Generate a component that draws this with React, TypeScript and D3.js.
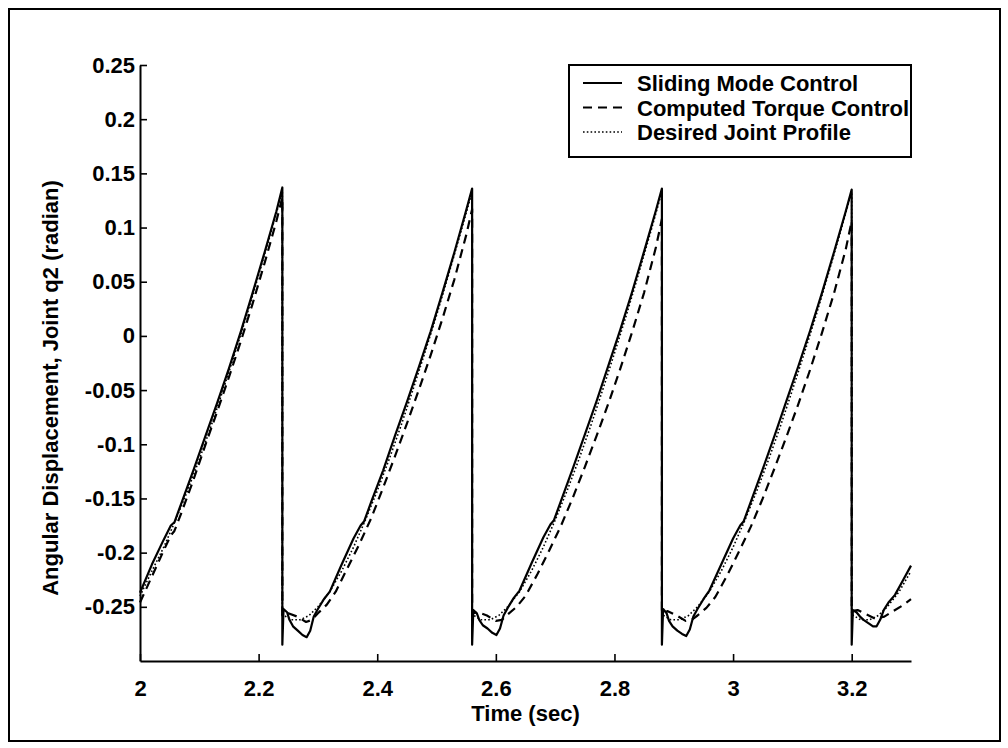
import React, { useEffect, useRef } from 'react';
import * as d3 from 'd3';

type Pt = [number, number];

// time (sec), angular displacement (rad)
const slidingMode: Pt[] = [
  [2.000, -0.237], [2.020, -0.211], [2.040, -0.188], [2.052, -0.175], [2.058, -0.172],
  [2.070, -0.154], [2.090, -0.124], [2.110, -0.093], [2.130, -0.062], [2.150, -0.030],
  [2.170, 0.004], [2.190, 0.040], [2.210, 0.077], [2.230, 0.115], [2.240, 0.137],
  [2.240, -0.285], [2.242, -0.252], [2.248, -0.255], [2.252, -0.262], [2.258, -0.268],
  [2.266, -0.272], [2.274, -0.276], [2.281, -0.278], [2.287, -0.272], [2.293, -0.259],
  [2.300, -0.252], [2.310, -0.243], [2.320, -0.236], [2.340, -0.211], [2.360, -0.187],
  [2.372, -0.175], [2.378, -0.171], [2.390, -0.153], [2.410, -0.124], [2.430, -0.092],
  [2.450, -0.061], [2.470, -0.029], [2.490, 0.004], [2.510, 0.040], [2.530, 0.077],
  [2.550, 0.116], [2.560, 0.136],
  [2.560, -0.285], [2.562, -0.253], [2.568, -0.256], [2.572, -0.262], [2.578, -0.267],
  [2.586, -0.270], [2.594, -0.274], [2.601, -0.276], [2.607, -0.270], [2.613, -0.258],
  [2.620, -0.251], [2.630, -0.242], [2.640, -0.235], [2.660, -0.210], [2.680, -0.186],
  [2.692, -0.174], [2.698, -0.170], [2.710, -0.152], [2.730, -0.122], [2.750, -0.091],
  [2.770, -0.060], [2.790, -0.027], [2.810, 0.006], [2.830, 0.041], [2.850, 0.078],
  [2.870, 0.116], [2.880, 0.136],
  [2.880, -0.285], [2.882, -0.252], [2.888, -0.256], [2.892, -0.263], [2.898, -0.268],
  [2.906, -0.272], [2.914, -0.275], [2.921, -0.277], [2.927, -0.271], [2.933, -0.259],
  [2.940, -0.252], [2.950, -0.243], [2.960, -0.235], [2.980, -0.211], [3.000, -0.187],
  [3.012, -0.175], [3.018, -0.171], [3.030, -0.153], [3.050, -0.123], [3.070, -0.092],
  [3.090, -0.060], [3.110, -0.028], [3.130, 0.005], [3.150, 0.040], [3.170, 0.077],
  [3.190, 0.115], [3.200, 0.135],
  [3.200, -0.285], [3.202, -0.253], [3.208, -0.255], [3.214, -0.259], [3.220, -0.262],
  [3.228, -0.265], [3.236, -0.268], [3.242, -0.268], [3.248, -0.262], [3.254, -0.253],
  [3.262, -0.246], [3.273, -0.239], [3.287, -0.225], [3.300, -0.212],
];

const computedTorque: Pt[] = [
  [2.000, -0.246], [2.020, -0.222], [2.040, -0.198], [2.052, -0.184], [2.058, -0.180],
  [2.070, -0.163], [2.090, -0.133], [2.110, -0.101], [2.130, -0.070], [2.150, -0.038],
  [2.170, -0.005], [2.190, 0.030], [2.210, 0.067], [2.230, 0.106], [2.240, 0.128],
  [2.240, -0.258], [2.250, -0.256], [2.265, -0.259], [2.280, -0.264], [2.290, -0.262],
  [2.300, -0.256], [2.315, -0.248], [2.330, -0.236], [2.350, -0.214], [2.370, -0.192],
  [2.390, -0.168], [2.410, -0.140], [2.430, -0.111], [2.450, -0.081], [2.470, -0.050],
  [2.490, -0.018], [2.510, 0.016], [2.530, 0.052], [2.550, 0.093], [2.560, 0.117],
  [2.560, -0.256], [2.570, -0.255], [2.585, -0.258], [2.600, -0.263], [2.610, -0.262],
  [2.620, -0.257], [2.635, -0.250], [2.650, -0.240], [2.670, -0.220], [2.690, -0.198],
  [2.710, -0.175], [2.730, -0.149], [2.750, -0.121], [2.770, -0.092], [2.790, -0.062],
  [2.810, -0.030], [2.830, 0.004], [2.850, 0.040], [2.870, 0.082], [2.880, 0.108],
  [2.880, -0.256], [2.890, -0.254], [2.905, -0.258], [2.920, -0.263], [2.930, -0.262],
  [2.940, -0.258], [2.955, -0.251], [2.970, -0.241], [2.990, -0.221], [3.010, -0.199],
  [3.030, -0.176], [3.050, -0.150], [3.070, -0.122], [3.090, -0.093], [3.110, -0.063],
  [3.130, -0.031], [3.150, 0.003], [3.170, 0.039], [3.190, 0.080], [3.200, 0.106],
  [3.200, -0.254], [3.210, -0.253], [3.225, -0.257], [3.240, -0.261], [3.255, -0.259],
  [3.270, -0.254], [3.285, -0.249], [3.300, -0.243],
];

const desiredProfile: Pt[] = [
  [2.000, -0.240], [2.020, -0.217], [2.040, -0.195], [2.060, -0.170], [2.080, -0.143],
  [2.100, -0.114], [2.120, -0.083], [2.140, -0.050], [2.160, -0.016], [2.180, 0.019],
  [2.200, 0.056], [2.220, 0.094], [2.240, 0.133],
  [2.240, -0.257], [2.255, -0.262], [2.270, -0.262], [2.285, -0.258], [2.300, -0.250],
  [2.320, -0.236], [2.340, -0.217], [2.360, -0.195], [2.380, -0.170], [2.400, -0.143],
  [2.420, -0.114], [2.440, -0.083], [2.460, -0.050], [2.480, -0.016], [2.500, 0.019],
  [2.520, 0.056], [2.540, 0.094], [2.560, 0.133],
  [2.560, -0.257], [2.575, -0.262], [2.590, -0.262], [2.605, -0.258], [2.620, -0.250],
  [2.640, -0.236], [2.660, -0.217], [2.680, -0.195], [2.700, -0.170], [2.720, -0.143],
  [2.740, -0.114], [2.760, -0.083], [2.780, -0.050], [2.800, -0.016], [2.820, 0.019],
  [2.840, 0.056], [2.860, 0.094], [2.880, 0.133],
  [2.880, -0.257], [2.895, -0.262], [2.910, -0.262], [2.925, -0.258], [2.940, -0.250],
  [2.960, -0.236], [2.980, -0.217], [3.000, -0.195], [3.020, -0.170], [3.040, -0.143],
  [3.060, -0.114], [3.080, -0.083], [3.100, -0.050], [3.120, -0.016], [3.140, 0.019],
  [3.160, 0.056], [3.180, 0.094], [3.200, 0.133],
  [3.200, -0.257], [3.215, -0.262], [3.230, -0.262], [3.245, -0.258], [3.260, -0.250],
  [3.280, -0.236], [3.300, -0.217],
];

const seriesNames = ['Sliding Mode Control', 'Computed Torque Control', 'Desired Joint Profile'];
const xTicks = [2, 2.2, 2.4, 2.6, 2.8, 3, 3.2];
const yTicks = [-0.25, -0.2, -0.15, -0.1, -0.05, 0, 0.05, 0.1, 0.15, 0.2, 0.25];

const App = () => {
  const svgRef = useRef<SVGSVGElement>(null);

  useEffect(() => {
    const svg = d3.select(svgRef.current);
    svg.selectAll('*').remove();

    const width = 1008;
    const height = 748;
    const margin = { top: 65, right: 97, bottom: 87, left: 140 };
    const font = 'Liberation Sans, Arial, Helvetica, sans-serif';

    const x = d3.scaleLinear().domain([2, 3.3]).range([margin.left, width - margin.right]);
    const y = d3.scaleLinear().domain([-0.3, 0.25]).range([height - margin.bottom, margin.top]);

    // outer frame of the scanned figure
    svg.append('rect')
      .attr('x', 9).attr('y', 9).attr('width', 991).attr('height', 732)
      .attr('fill', 'none').attr('stroke', '#000').attr('stroke-width', 2);

    const styles = [
      { dash: null, w: 2.2 },
      { dash: '9,6', w: 2.2 },
      { dash: '1.6,2.2', w: 1.6 },
    ];
    const allSeries = [slidingMode, computedTorque, desiredProfile];

    const line = d3.line<Pt>().x(d => x(d[0])).y(d => y(d[1]));

    [2, 1, 0].forEach(i => {
      svg.append('path')
        .datum(allSeries[i])
        .attr('d', line)
        .attr('fill', 'none')
        .attr('stroke', '#000')
        .attr('stroke-width', styles[i].w)
        .attr('stroke-dasharray', styles[i].dash)
        .attr('stroke-linejoin', 'round');
    });

    const xAxis = svg.append('g')
      .attr('transform', `translate(0,${y(-0.3)})`)
      .call(d3.axisBottom(x).tickValues(xTicks).tickSize(-7).tickSizeOuter(0).tickPadding(19)
        .tickFormat(d => String(d)));
    const yAxis = svg.append('g')
      .attr('transform', `translate(${x(2)},0)`)
      .call(d3.axisLeft(y).tickValues(yTicks).tickSize(-7).tickSizeOuter(0).tickPadding(5)
        .tickFormat(d => String(+(+d).toFixed(2))));

    [xAxis, yAxis].forEach(g => {
      g.attr('font-family', font).attr('font-size', 22).attr('font-weight', 'bold');
      g.select('.domain').attr('stroke', '#000').attr('stroke-width', 2);
      g.selectAll('.tick line').attr('stroke', '#000').attr('stroke-width', 1.6);
      g.selectAll('.tick text').attr('fill', '#000');
    });

    svg.append('text')
      .attr('x', (x(2) + x(3.3)) / 2).attr('y', 721)
      .attr('text-anchor', 'middle')
      .attr('font-family', font).attr('font-size', 22).attr('font-weight', 'bold')
      .text('Time (sec)');

    svg.append('text')
      .attr('transform', `translate(58,388) rotate(-90)`)
      .attr('text-anchor', 'middle')
      .attr('font-family', font).attr('font-size', 22).attr('font-weight', 'bold')
      .text('Angular Displacement, Joint q2 (radian)');

    // legend
    const legend = svg.append('g');
    legend.append('rect')
      .attr('x', 569).attr('y', 65).attr('width', 342).attr('height', 92)
      .attr('fill', '#fff').attr('stroke', '#000').attr('stroke-width', 2);
    seriesNames.forEach((name, i) => {
      const ry = 83 + i * 24.5;
      legend.append('line')
        .attr('x1', 583).attr('x2', 622).attr('y1', ry).attr('y2', ry)
        .attr('stroke', '#000')
        .attr('stroke-width', styles[i].w)
        .attr('stroke-dasharray', styles[i].dash);
      legend.append('text')
        .attr('x', 637).attr('y', ry + 8)
        .attr('font-family', font).attr('font-size', 22).attr('font-weight', 'bold')
        .text(name);
    });
  }, []);

  return (
    <svg
      ref={svgRef}
      width={1008}
      height={748}
      style={{ position: 'absolute', left: 0, top: 0, background: '#fff' }}
    />
  );
};

export default App;
